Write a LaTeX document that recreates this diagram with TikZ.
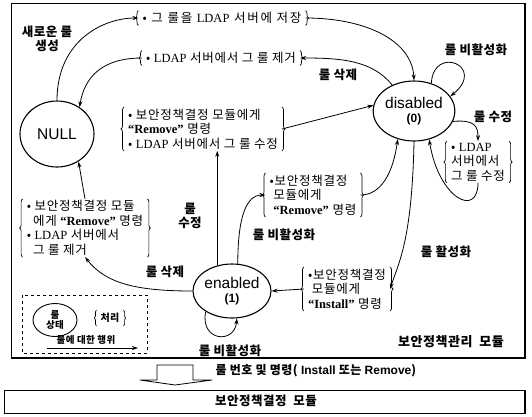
\documentclass[tikz,border=0pt]{standalone}
\usepackage{fontspec}
\setmainfont{Liberation Serif}
\newfontfamily\kr[LetterSpace=6]{Noto Sans CJK KR}
\newfontfamily\krw[LetterSpace=14]{Noto Sans CJK KR}
\newfontfamily\krb[LetterSpace=4]{Noto Sans CJK KR}
\newfontfamily\sansf{Liberation Sans}
\usetikzlibrary{shapes.geometric,arrows.meta,decorations.pathreplacing}
\newcommand\lt[1]{{\rmfamily #1}}
\newcommand\lbb[1]{{\rmfamily\bfseries #1}}
\newcommand\brk[1]{%
  \draw[bracestyle] (#1.south west) -- (#1.north west);
  \draw[bracestyle] (#1.north east) -- (#1.south east);}
\tikzset{
  state/.style={ellipse, draw, line width=1.1pt, align=center, inner sep=0pt,
    font=\sansf\fontsize{15.5}{16}\selectfont},
  act/.style={font=\krb\bfseries\fontsize{12.5}{14.5}\selectfont, align=center, inner sep=1pt},
  proc/.style={font=\kr\fontsize{12.5}{14.5}\selectfont, align=left, inner xsep=4pt, inner ysep=1.5pt},
  bracestyle/.style={decorate, decoration={brace, amplitude=3pt}, line width=0.7pt},
  arr/.style={-{Stealth[length=6pt,width=4pt]}, line width=0.8pt},
}
\begin{document}
\begin{tikzpicture}[x=1pt,y=-1pt]
\useasboundingbox (0,0) rectangle (532,416);
% frames
\draw[line width=0.8pt] (11,3) rectangle (525,358);
\draw[line width=2.2pt] (525,4) -- (525,358) -- (12,358);
\draw[line width=0.8pt] (4,390) rectangle (525,413);
\draw[line width=1.8pt] (525,391) -- (525,413);
\node[font=\krb\bfseries\fontsize{12.5}{14}\selectfont] (pdm) at (266,401) {보안정책결정\ \ 모듈};
% block arrow
\draw[line width=0.8pt] (157,380) -- (157,365) -- (193,365) -- (193,380) -- (212,380) -- (175,385) -- (140,380) -- cycle;
\node[font=\krb\bfseries\fontsize{12}{13}\selectfont, anchor=west] (cmd) at (212,371)
  {룰 번호 및 명령({\sansf\bfseries\ Install} 또는 {\sansf\bfseries Remove})};
\node[act, font=\krb\bfseries\fontsize{13}{14}\selectfont] (pmm) at (451,342) {보안정책관리\ \ 모듈};

% states
\node[state, minimum width=74pt, minimum height=66pt] (null) at (57,134) {NULL};
\node[state, minimum width=72pt, minimum height=60pt] (dis) at (414,111)
  {disabled\\[-2pt]{\fontsize{12}{12}\selectfont\bfseries (0)}};
\node[state, minimum width=72pt, minimum height=54pt] (en) at (232,291)
  {enabled\\[-2pt]{\fontsize{12}{12}\selectfont\bfseries (1)}};

% process boxes
\node[proc, font=\krw\fontsize{12.5}{14.5}\selectfont] (b1) at (222,18) {• 그 룰을 \lt{LDAP} 서버에 저장};
\node[proc] (b2) at (221,58) {• \lt{LDAP} 서버에서 그 룰 제거};
\node[proc] (b3) at (203,129) {• 보안정책결정 모듈에게\\\lbb{“Remove”} 명령\\• \lt{LDAP} 서버에서 그 룰 수정};
\node[proc] (b4) at (85,228) {• 보안정책결정 모듈\\\hspace*{0.5em}에게 \lbb{“Remove”} 명령\\• \lt{LDAP} 서버에서\\\hspace*{0.5em}그 룰 제거};
\node[proc] (b5) at (313,195) {•보안정책결정\\\hspace*{0.3em}모듈에게\\\hspace*{0.3em}\lbb{“Remove”} 명령};
\node[proc] (b6) at (347,289) {•보안정책결정\\\hspace*{0.3em}모듈에게\\\lbb{“Install”} 명령};
\node[proc] (b7) at (478,162) {• \lt{LDAP}\\서버에서\\그 룰 수정};
\foreach \b in {b1,b2,b3,b4,b5,b6,b7} {\brk{\b}}

% labels
\node[act] (lnew) at (47,39) {새로운 룰\\생성};
\node[act] (ldel1) at (338,75) {룰 삭제};
\node[act] (lloop1) at (476,50) {룰 비활성화};
\node[act] (lmod1) at (493,117) {룰 수정};
\node[act] (lmod2) at (190,216) {룰\\수정};
\node[act] (ldel2) at (165,272) {룰 삭제};
\node[act] (ldis) at (284,235) {룰 비활성화};
\node[act] (lact) at (446,252) {룰 활성화};
\node[act] (lloop2) at (230,351) {룰 비활성화};

% connectors
\draw[arr] (null.north) .. controls +(0,-60) and +(-35,0) .. (b1.west);
\draw[arr] (b1.east) .. controls +(60,0) and +(-2,-40) .. (dis.north);
\draw[arr] (dis.130) .. controls +(-20,-25) and +(40,0) .. (b2.east);
\draw[arr] (b2.west) .. controls +(-40,0) and +(5,-30) .. (null.50);
\draw[arr] (b3.east) -- (dis.172);
\draw[arr] (en.120) -- (en.120 |- b3.south);
\draw[arr] (en.west) .. controls +(-60,0) and +(20,25) .. (b4.south);
\draw[arr] (b4.north) -- (null.-52);
\draw[arr] (en.78) .. controls +(0,-45) and +(-20,0) .. (b5.west);
\draw[arr] (b5.east) .. controls +(20,0) and +(-5,35) .. (dis.-120);
\draw[arr] (dis.south) .. controls +(-2,100) and +(8,-25) .. (b6.east);
\draw[arr] (b6.west) -- (en.east);
\draw[arr] (dis.-15) .. controls +(22,-2) and +(0,-15) .. (b7.north);
\draw[arr] (b7.south) .. controls +(0,35) and +(10,60) .. (dis.-62);
\draw[arr] (dis.58) .. controls +(2,-39) and +(37,-30) .. (dis.22);
\draw[arr] (en.218) .. controls +(-6,30) and +(-2,26) .. (en.-80);

% legend
\draw[dashed, line width=0.8pt] (22,295) rectangle (147,353);
\node[ellipse, draw, line width=0.9pt, minimum width=44pt, minimum height=33pt, inner sep=0pt,
  align=center, font=\krb\bfseries\fontsize{9.5}{10.5}\selectfont] (lgs) at (55,320) {룰\\상태};
\node[proc, font=\krb\bfseries\fontsize{10}{11}\selectfont, inner ysep=3pt] (lgp) at (110,318) {처리};
\draw[decorate, decoration={brace, amplitude=2pt}, line width=0.7pt] (lgp.south west) -- (lgp.north west);
\draw[decorate, decoration={brace, amplitude=2pt}, line width=0.7pt] (lgp.north east) -- (lgp.south east);
\coordinate (lga) at (47,348);
\coordinate (lgb) at (138,348);
\draw[arr, line width=0.7pt] (lga) -- (lgb);
\node[act, font=\krb\bfseries\fontsize{9.5}{10}\selectfont] (lgt) at (86,340) {룰에 대한 행위};
\end{tikzpicture}
\end{document}
